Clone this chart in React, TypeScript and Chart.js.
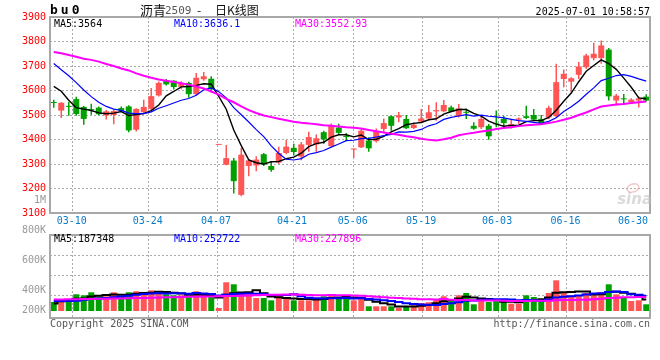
import React, { useEffect, useRef } from 'react';
import { Chart, registerables } from 'chart.js';

Chart.register(...registerables);

const dates = [
  '03-05','03-06','03-07','03-10','03-11','03-12','03-13','03-14','03-17','03-18','03-19','03-20','03-21','03-24','03-25','03-26','03-27','03-28','03-31',
  '04-01','04-02','04-03','04-07','04-08','04-09','04-10','04-11','04-14','04-15','04-16','04-17','04-18','04-21','04-22','04-23','04-24','04-25','04-28','04-29','04-30',
  '05-06','05-07','05-08','05-09','05-12','05-13','05-14','05-15','05-16','05-19','05-20','05-21','05-22','05-23','05-26','05-27','05-28','05-29','05-30',
  '06-03','06-04','06-05','06-06','06-09','06-10','06-11','06-12','06-13','06-16','06-17','06-18','06-19','06-20','06-23','06-24','06-25','06-26','06-27','06-30',
  '07-01'
];
const dateLabels = ['03-10','03-24','04-07','04-21','05-06','05-19','06-03','06-16','06-30'];

const openP = [3552,3518,3536,3565,3533,3524,3530,3498,3500,3528,3535,3440,3511,3525,3580,3641,3640,3615,3631,3585,3646,3648,3378,3297,3314,3174,3292,3294,3340,3292,3306,3345,3366,3330,3378,3380,3430,3373,3449,3412,3359,3368,3396,3393,3443,3495,3490,3484,3447,3473,3486,3515,3515,3531,3495,3512,3456,3450,3456,3465,3484,3452,3481,3495,3500,3484,3490,3495,3647,3636,3664,3695,3732,3732,3767,3559,3567,3552,3559,3575];
const highP = [3562,3552,3553,3575,3537,3546,3535,3520,3520,3535,3540,3528,3562,3610,3637,3647,3642,3638,3636,3671,3676,3658,3378,3378,3324,3365,3320,3332,3345,3308,3370,3398,3383,3390,3432,3420,3436,3465,3464,3427,3363,3446,3409,3445,3486,3497,3512,3500,3470,3525,3541,3552,3561,3538,3545,3527,3470,3500,3463,3518,3497,3484,3490,3538,3525,3500,3538,3709,3686,3654,3716,3750,3795,3804,3773,3586,3586,3568,3576,3585];
const lowP = [3530,3488,3497,3497,3460,3501,3499,3482,3462,3512,3430,3433,3505,3520,3576,3620,3604,3605,3570,3580,3640,3592,3378,3295,3180,3168,3250,3270,3292,3268,3300,3340,3335,3315,3350,3350,3383,3370,3418,3393,3326,3365,3350,3388,3426,3436,3470,3443,3443,3470,3484,3477,3511,3511,3490,3484,3440,3443,3399,3450,3450,3445,3463,3484,3477,3463,3484,3490,3613,3593,3647,3688,3722,3709,3559,3538,3545,3545,3531,3555];
const closeP = [3549,3550,3533,3504,3484,3520,3503,3515,3516,3517,3437,3525,3533,3577,3631,3625,3614,3628,3585,3652,3658,3605,3378,3324,3230,3338,3315,3318,3298,3276,3345,3371,3349,3380,3410,3405,3400,3455,3427,3410,3362,3436,3364,3434,3467,3456,3499,3446,3460,3486,3511,3520,3541,3514,3527,3509,3444,3484,3413,3462,3467,3463,3486,3488,3481,3467,3529,3634,3668,3650,3698,3743,3750,3784,3576,3579,3564,3563,3568,3559];

const ma5 = [3617,3597,3560,3530,3524.0,3518.2,3508.8,3505.2,3507.6,3514.2,3497.6,3502.0,3505.6,3517.8,3540.6,3578.2,3596.0,3615.0,3616.6,3620.8,3627.4,3625.6,3575.6,3523.4,3439.0,3375.0,3317.0,3305.0,3299.8,3309.0,3310.4,3321.6,3327.8,3344.2,3371.0,3383.0,3388.8,3410.0,3419.4,3419.4,3410.8,3418.0,3399.8,3401.2,3412.6,3431.4,3444.0,3460.4,3465.6,3469.4,3480.4,3484.6,3503.6,3514.4,3522.6,3522.2,3507.0,3495.6,3475.4,3462.4,3454.0,3457.8,3458.2,3473.2,3477.0,3477.0,3490.2,3519.8,3555.8,3589.6,3635.8,3678.6,3701.8,3725.0,3710.2,3686.4,3650.6,3613.2,3570.0,3566.6];
const ma10 = [3710,3685,3660,3632,3602,3575,3552,3535,3524,3519.1,3507.9,3505.4,3505.4,3512.7,3527.4,3537.9,3549.0,3560.3,3567.2,3580.7,3602.8,3610.8,3595.3,3570.0,3529.9,3501.2,3471.3,3440.3,3411.6,3374.0,3342.7,3319.3,3316.4,3322.0,3340.0,3346.7,3355.2,3368.9,3381.8,3395.2,3396.9,3403.4,3404.9,3410.3,3416.0,3421.1,3431.0,3430.1,3433.4,3441.0,3455.9,3464.3,3482.0,3490.0,3496.0,3501.3,3495.8,3499.6,3494.9,3492.5,3488.1,3482.4,3476.9,3474.3,3469.7,3465.5,3474.0,3489.0,3514.5,3533.3,3556.4,3584.4,3610.8,3640.4,3649.9,3661.1,3664.6,3657.5,3647.5,3638.4];
const ma30 = [3757,3752,3745,3738,3730,3725,3718,3708,3700,3690,3682,3670,3660,3652,3645,3640,3635,3630,3624,3616,3608,3596,3583,3566,3552,3535,3520,3508,3498,3491.3,3484.5,3478.5,3472.4,3468.2,3465.8,3461.9,3458.5,3456.5,3453.5,3450.0,3447.5,3444.5,3438.9,3434.1,3428.6,3423.0,3419.2,3413.1,3408.9,3403.4,3398.5,3395.7,3401.1,3407.4,3417.3,3423.0,3427.3,3432.9,3436.7,3442.9,3447.0,3450.0,3454.6,3458.2,3460.6,3462.6,3466.9,3472.9,3480.9,3488.9,3500.1,3510.4,3523.2,3534.9,3538.5,3542.6,3544.8,3548.7,3552.3,3554.7];

const volume = [148000,185000,169000,274000,257000,307000,241000,241000,307000,230000,307000,323000,307000,339000,312000,274000,257000,257000,241000,323000,257000,241000,49000,471000,438000,312000,274000,213000,213000,175000,257000,202000,175000,175000,175000,213000,241000,257000,230000,202000,175000,230000,77000,77000,77000,77000,54000,77000,93000,131000,143000,185000,241000,197000,257000,295000,110000,175000,148000,175000,148000,120000,120000,257000,230000,208000,295000,503000,295000,257000,257000,295000,257000,312000,438000,274000,218000,164000,175000,110000];
const volMa5 = [125000,160000,175000,200000,206600,238400,249600,264000,270600,265200,265200,281600,294800,301200,317600,311000,297800,287800,268200,270400,267000,263800,222200,268200,291200,302200,308800,341600,290000,237400,226400,212000,204400,196800,196800,188000,195800,212200,223200,228600,221000,218800,182800,152200,127200,107600,72400,72400,75600,86400,99600,125800,158600,179400,204600,235000,220000,206800,197000,180600,151200,153200,142200,164000,175000,187000,222000,298600,306200,311600,321400,321400,272200,275600,311800,315200,299800,281200,253800,188200];
const volMa10 = [165000,165000,165000,170000,185000,195000,205000,215000,225000,235900,251800,265600,279400,285900,291400,288100,289700,291300,284700,294000,289000,280800,255000,268200,280800,284600,286300,281900,279100,264300,264300,260400,273000,243400,217100,207200,203900,208300,210000,212700,204500,207300,197500,187700,177900,164300,145600,127600,113900,106800,103600,99100,115500,127500,145500,167300,172900,182700,188200,192600,193100,186600,174500,180500,177800,169100,187600,220400,235100,243300,254200,271700,285400,290900,311700,318300,310600,276700,264700,250000];
const volMa30 = [190000,190000,192000,193000,195000,197000,199000,201000,204000,207000,210000,212000,215000,218000,221000,224000,227000,230000,232000,234000,236000,238000,240000,244000,248000,252000,256000,259000,262000,264700,268400,268900,269100,265800,263100,260000,260000,260500,257900,257000,252600,249500,241800,233100,225300,218700,211900,205900,201000,194600,190800,188900,195300,186200,180200,179600,174100,172900,170700,170700,167100,164300,162500,165200,167100,166900,168700,176900,179100,180900,183600,185800,191800,199600,211700,218200,223700,226600,229300,228600];

const priceTicks = [3100, 3200, 3300, 3400, 3500, 3600, 3700, 3800, 3900];
const volAxisLabels = ['1M', '800K', '600K', '400K', '200K'];
const maLabels = { ma5: '3564', ma10: '3636.1', ma30: '3552.93' };
const volMaLabels = { ma5: '187348', ma10: '252722', ma30: '227896' };
const symbol = 'bu0';
const titleName = '沥青';
const titleCode = '2509';
const titleRest = '日K线图';
const timestamp = '2025-07-01 10:58:57';

const RED = '#ff5555';
const GREEN = '#00a000';
const BLUE_LABEL = '#0a7bc8';
const GRID = '#aaaaaa';
const MONO = '"DejaVu Sans Mono", monospace';
const CJK = '"Noto Sans CJK SC", sans-serif';

const N = dates.length;
const candleColors = closeP.map((c, i) => (c >= openP[i] ? RED : GREEN));
const gridValue = (i: number) => (i * N) / (N - 1) - 0.5;
const gridTicks = dateLabels.slice(0, -1).map((d) => gridValue(dates.indexOf(d)));

const xScaleBase = (height: number) => ({
  type: 'linear' as const,
  min: -0.5,
  max: N - 0.5,
  offset: false,
  afterBuildTicks: (s: any) => {
    s.ticks = gridTicks.map((v) => ({ value: v }));
  },
  afterFit: (s: any) => {
    s.height = height;
  },
  ticks: { display: false },
  grid: { color: GRID, drawTicks: false, lineWidth: 1, offset: false },
  border: { display: false, dash: [2, 2] },
});

const pricePlugin = {
  id: 'priceDecor',
  afterDraw(chart: any) {
    const { ctx, chartArea: a, scales } = chart;
    const x = scales.x;
    ctx.save();
    ctx.strokeStyle = '#a8a8a8';
    ctx.lineWidth = 2;
    ctx.strokeRect(a.left, a.top, a.right - a.left, a.bottom - a.top);

    ctx.font = `10px ${MONO}`;
    ctx.textBaseline = 'middle';
    ctx.fillStyle = BLUE_LABEL;
    dateLabels.forEach((d, k) => {
      const i = dates.indexOf(d);
      if (k === dateLabels.length - 1) {
        ctx.textAlign = 'right';
        ctx.fillText(d, a.right - 2, a.bottom + 8);
      } else {
        ctx.textAlign = 'center';
        ctx.fillText(d, x.getPixelForValue(gridValue(i)) - 1, a.bottom + 8);
      }
    });

    // header
    ctx.textAlign = 'left';
    ctx.fillStyle = '#000';
    ctx.font = `bold 13px ${MONO}`;
    (ctx as any).letterSpacing = '3px';
    ctx.fillText(symbol, a.left, 11);
    (ctx as any).letterSpacing = '0px';
    ctx.font = `13px ${CJK}`;
    ctx.fillStyle = '#111';
    ctx.fillText(titleName, 140, 10);
    ctx.font = `11px ${MONO}`;
    ctx.fillStyle = '#555';
    ctx.fillText(titleCode, 165, 11);
    ctx.fillStyle = '#111';
    ctx.font = `12px ${CJK}`;
    ctx.fillText('-', 197, 10);
    ctx.font = `12px ${CJK}`;
    ctx.fillText(titleRest, 215, 10);
    ctx.font = `10px ${MONO}`;
    ctx.textAlign = 'right';
    ctx.fillStyle = '#000';
    ctx.fillText(timestamp, a.right, 12);

    ctx.textAlign = 'left';
    ctx.fillStyle = '#000';
    ctx.fillText(`MA5:${maLabels.ma5}`, 54, a.top + 7);
    ctx.fillStyle = '#0000ff';
    ctx.fillText(`MA10:${maLabels.ma10}`, 174, a.top + 7);
    ctx.fillStyle = '#ff00ff';
    ctx.fillText(`MA30:${maLabels.ma30}`, 295, a.top + 7);

    // watermark
    ctx.globalAlpha = 0.55;
    ctx.strokeStyle = '#e6a0a0';
    ctx.lineWidth = 1.5;
    ctx.beginPath();
    ctx.ellipse(633, a.bottom - 25, 6, 4, -0.3, 0, Math.PI * 2);
    ctx.stroke();
    ctx.fillStyle = '#bbbbbb';
    ctx.font = `italic bold 15px "DejaVu Sans", sans-serif`;
    ctx.textAlign = 'right';
    ctx.fillText('sina', a.right + 2, a.bottom - 13);
    ctx.restore();
  },
};

const volumePlugin = {
  id: 'volDecor',
  afterDraw(chart: any) {
    const { ctx, chartArea: a } = chart;
    ctx.save();
    ctx.strokeStyle = '#a8a8a8';
    ctx.lineWidth = 2;
    ctx.strokeRect(a.left, a.top, a.right - a.left, a.bottom - a.top);

    ctx.font = `10px ${MONO}`;
    ctx.textBaseline = 'middle';
    ctx.textAlign = 'right';
    ctx.fillStyle = '#999';
    const offs = [-35, -5, 25, 55, 75];
    volAxisLabels.forEach((t, k) => ctx.fillText(t, a.left - 4, a.top + offs[k]));

    ctx.textAlign = 'left';
    ctx.fillStyle = '#000';
    ctx.fillText(`MA5:${volMaLabels.ma5}`, 54, a.top + 4);
    ctx.fillStyle = '#0000ff';
    ctx.fillText(`MA10:${volMaLabels.ma10}`, 174, a.top + 4);
    ctx.fillStyle = '#ff00ff';
    ctx.fillText(`MA30:${volMaLabels.ma30}`, 295, a.top + 4);

    ctx.fillStyle = '#555';
    ctx.fillText('Copyright 2025 SINA.COM', a.left, a.bottom + 6);
    ctx.textAlign = 'right';
    ctx.fillText('http://finance.sina.com.cn', a.right, a.bottom + 6);
    ctx.restore();
  },
};

export default function App() {
  const priceRef = useRef<HTMLCanvasElement>(null);
  const volRef = useRef<HTMLCanvasElement>(null);

  useEffect(() => {
    const idx = dates.map((_, i) => i);
    const line = (data: number[], color: string, width: number) => ({
      type: 'line' as const,
      data: idx.map((i) => ({ x: i, y: data[i] })),
      borderColor: color,
      borderWidth: width,
      pointRadius: 0,
      tension: 0,
      order: 0,
    });

    const price = new Chart(priceRef.current!, {
      type: 'bar',
      data: {
        datasets: [
          {
            type: 'bar',
            data: idx.map((i) => ({ x: i, y: [lowP[i], highP[i]] })) as any,
            backgroundColor: candleColors,
            barThickness: 1.5,
            inflateAmount: 0,
            grouped: false,
            order: 3,
          },
          {
            type: 'bar',
            data: idx.map((i) => ({ x: i, y: [openP[i], closeP[i]] })) as any,
            backgroundColor: candleColors,
            barThickness: 6,
            inflateAmount: 0,
            minBarLength: 1,
            grouped: false,
            order: 2,
          },
          line(ma30, '#ff00ff', 2) as any,
          line(ma10, '#0000ff', 1.2) as any,
          line(ma5, '#000000', 1.4) as any,
        ],
      },
      options: {
        animation: false,
        responsive: false,
        events: [],
        layout: { padding: { top: 17, right: 10, left: 0, bottom: 0 } },
        plugins: { legend: { display: false }, tooltip: { enabled: false } },
        scales: {
          x: xScaleBase(19) as any,
          y: {
            min: priceTicks[0],
            max: priceTicks[priceTicks.length - 1],
            afterBuildTicks: (s: any) => {
              s.ticks = priceTicks.map((v) => ({ value: v }));
            },
            afterFit: (s: any) => {
              s.width = 50;
            },
            ticks: {
              color: '#ff0000',
              font: { family: MONO, size: 10 },
              padding: 4,
              callback: (v: any) => String(v),
            },
            grid: { color: GRID, drawTicks: false },
            border: { display: false, dash: [2, 2] },
          },
        },
      },
      plugins: [pricePlugin],
    });

    const volAreaTop = 45;
    const volAreaH = 83;
    const volPxPerUnit = 16400; // volume units per pixel
    const baselineFromTop = 76;
    const vol = new Chart(volRef.current!, {
      type: 'bar',
      data: {
        datasets: [
          {
            type: 'bar',
            data: idx.map((i) => ({ x: i, y: volume[i] })),
            backgroundColor: candleColors,
            barThickness: 6,
            inflateAmount: 0,
            grouped: false,
            order: 2,
          },
          { ...(line(volMa30, '#ff00ff', 2) as any), stepped: 'middle' },
          { ...(line(volMa10, '#0000ff', 2) as any), stepped: 'middle' },
          { ...(line(volMa5, '#000000', 2) as any), stepped: 'middle' },
        ],
      },
      options: {
        animation: false,
        responsive: false,
        events: [],
        layout: { padding: { top: volAreaTop, right: 10, left: 0, bottom: 0 } },
        plugins: { legend: { display: false }, tooltip: { enabled: false } },
        scales: {
          x: xScaleBase(42) as any,
          y: {
            min: -(volAreaH - baselineFromTop) * volPxPerUnit,
            max: baselineFromTop * volPxPerUnit,
            afterBuildTicks: (s: any) => {
              s.ticks = [1, 2, 3].map((k) => ({ value: s.max - (k * 20 * (s.max - s.min)) / volAreaH }));
            },
            afterFit: (s: any) => {
              s.width = 50;
            },
            ticks: { display: false },
            grid: { color: GRID, drawTicks: false },
            border: { display: false, dash: [2, 2] },
          },
        },
      },
      plugins: [volumePlugin],
    });

    return () => {
      price.destroy();
      vol.destroy();
    };
  }, []);

  return (
    <div style={{ position: 'absolute', left: 0, top: 0, width: 660, height: 360, background: '#fff', overflow: 'hidden' }}>
      <canvas ref={priceRef} width={660} height={232} style={{ position: 'absolute', left: 0, top: 0, width: 660, height: 232 }} />
      <canvas ref={volRef} width={660} height={170} style={{ position: 'absolute', left: 0, top: 190, width: 660, height: 170 }} />
    </div>
  );
}
